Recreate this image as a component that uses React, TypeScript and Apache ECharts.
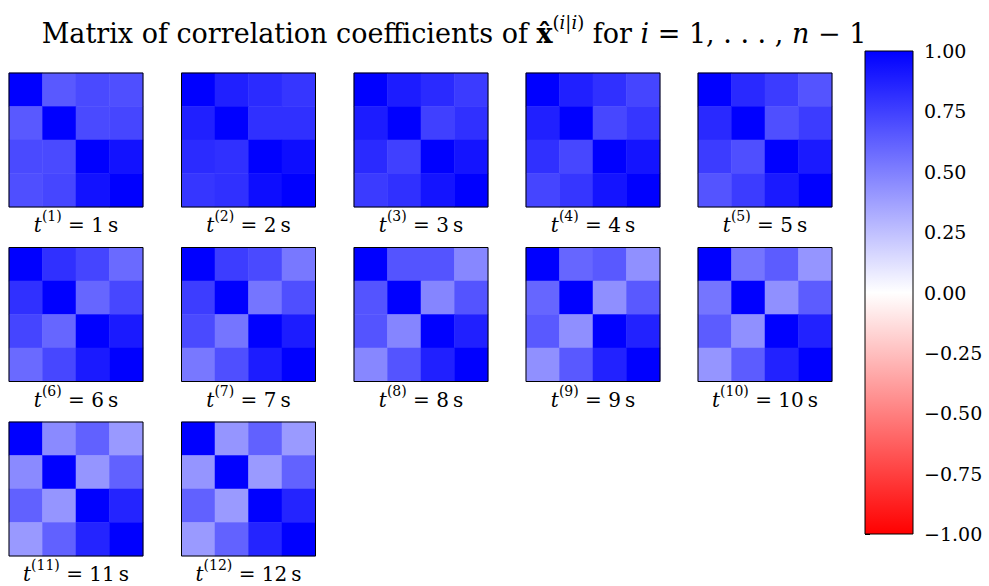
import React, { useEffect, useRef } from "react";
import * as echarts from "echarts";

// time steps t^(i) in seconds
const times = [1, 2, 3, 4, 5, 6, 7, 8, 9, 10, 11, 12];
// upper-triangle correlation coefficients (symmetric 4x4, diagonal = 1)
const r01 = [0.65, 0.875, 0.89, 0.875, 0.84, 0.81, 0.76, 0.67, 0.6, 0.54, 0.46, 0.415];
const r02 = [0.71, 0.83, 0.835, 0.81, 0.765, 0.73, 0.71, 0.67, 0.65, 0.64, 0.62, 0.62];
const r03 = [0.69, 0.79, 0.77, 0.73, 0.67, 0.585, 0.53, 0.47, 0.435, 0.415, 0.4, 0.395];
const r12 = [0.71, 0.81, 0.75, 0.72, 0.69, 0.6, 0.54, 0.48, 0.44, 0.435, 0.415, 0.395];
const r13 = [0.725, 0.81, 0.81, 0.79, 0.765, 0.72, 0.69, 0.67, 0.65, 0.64, 0.62, 0.615];
const r23 = [0.93, 0.95, 0.92, 0.92, 0.9, 0.9, 0.89, 0.875, 0.865, 0.865, 0.86, 0.86];
const cells = ["0", "1", "2", "3"];
const cbMin = -1;
const cbMax = 1;
const cbStep = 0.25;

const FONT = "DejaVu Serif";

function matrix(k: number): number[][] {
  const u: Record<string, number> = {
    "01": r01[k], "02": r02[k], "03": r03[k], "12": r12[k], "13": r13[k], "23": r23[k],
  };
  const m: number[][] = [];
  for (let i = 0; i < 4; i++) {
    m.push([]);
    for (let j = 0; j < 4; j++) {
      if (i === j) m[i].push(1);
      else m[i].push(u[i < j ? `${i}${j}` : `${j}${i}`]);
    }
  }
  return m;
}

export default function App() {
  const ref = useRef<HTMLDivElement>(null);
  useEffect(() => {
    if (!ref.current) return;
    const chart = echarts.init(ref.current, undefined, { renderer: "svg" });
    const size = 134;
    const colX = [9, 181.5, 354, 526, 698];
    const rowY = [73, 247.5, 422];
    const grids: any[] = [];
    const xAxes: any[] = [];
    const yAxes: any[] = [];
    const series: any[] = [];
    const graphics: any[] = [];
    times.forEach((t, k) => {
      const c = k % 5;
      const r = Math.floor(k / 5);
      grids.push({
        left: colX[c], top: rowY[r], width: size, height: size,
        show: true, borderColor: "#000", borderWidth: 1, backgroundColor: "transparent", z: 10,
      });
      xAxes.push({ type: "category", data: cells, gridIndex: k, show: false });
      yAxes.push({ type: "category", data: cells, gridIndex: k, show: false, inverse: true });
      const m = matrix(k);
      const data: number[][] = [];
      for (let i = 0; i < 4; i++) for (let j = 0; j < 4; j++) data.push([j, i, m[i][j]]);
      series.push({
        type: "heatmap", xAxisIndex: k, yAxisIndex: k, data,
        itemStyle: { borderWidth: 0 }, emphasis: { disabled: true },
      });
      graphics.push({
        type: "text",
        x: colX[c] + size / 2,
        y: rowY[r] + size + 15,
        style: {
          text: `{it|t}{sup|(${t})}{n| = ${t}\u2009s}`,
          textAlign: "center",
          textVerticalAlign: "middle",
          fill: "#000",
          rich: {
            it: { fontFamily: FONT, fontSize: 20, fontStyle: "italic", verticalAlign: "bottom", lineHeight: 26 },
            sup: { fontFamily: FONT, fontSize: 14, verticalAlign: "top", lineHeight: 26 },
            n: { fontFamily: FONT, fontSize: 20, verticalAlign: "bottom", lineHeight: 26 },
          },
        },
      });
    });
    // colorbar
    const cb = { left: 865, top: 51, width: 48, height: 483 };
    const cbIdx = times.length;
    grids.push({ ...cb, show: true, borderColor: "#000", borderWidth: 1, backgroundColor: "transparent", z: 10 });
    xAxes.push({ type: "value", gridIndex: cbIdx, show: false, min: 0, max: 1 });
    yAxes.push({
      type: "value", gridIndex: cbIdx, position: "right", min: cbMin, max: cbMax, interval: cbStep,
      axisLine: { show: false }, splitLine: { show: false },
      axisTick: { show: true, length: 5, lineStyle: { color: "#000" } },
      axisLabel: {
        color: "#000", fontFamily: FONT, fontSize: 19, margin: 11,
        formatter: (v: number) => (v < 0 ? "\u2212" : "") + Math.abs(v).toFixed(2),
      },
    });
    graphics.push({
      type: "rect", z: 1,
      shape: { x: cb.left, y: cb.top, width: cb.width, height: cb.height },
      style: {
        fill: new echarts.graphic.LinearGradient(0, 0, 0, 1, [
          { offset: 0, color: "#0000ff" },
          { offset: 0.5, color: "#ffffff" },
          { offset: 1, color: "#ff0000" },
        ]),
      },
    });
    // title
    graphics.push({
      type: "text",
      x: 454,
      y: 30,
      style: {
        text: "{n|Matrix of correlation coefficients of }{b|x\u0302}{sup|(}{supi|i}{sup||}{supi|i}{sup|)}{n| for }{i|i}{n| = 1, . . . , }{i|n}{n| \u2212 1}",
        textAlign: "center",
        textVerticalAlign: "middle",
        fill: "#000",
        rich: {
          n: { fontFamily: FONT, fontSize: 27, verticalAlign: "bottom", lineHeight: 33 },
          i: { fontFamily: FONT, fontSize: 27, fontStyle: "italic", verticalAlign: "bottom", lineHeight: 33 },
          b: { fontFamily: FONT, fontSize: 27, fontWeight: "bold", verticalAlign: "bottom", lineHeight: 33 },
          sup: { fontFamily: FONT, fontSize: 18, verticalAlign: "top", lineHeight: 33 },
          supi: { fontFamily: FONT, fontSize: 18, fontStyle: "italic", verticalAlign: "top", lineHeight: 33 },
        },
      },
    });
    chart.setOption({
      animation: false,
      backgroundColor: "#fff",
      grid: grids,
      xAxis: xAxes,
      yAxis: yAxes,
      visualMap: {
        show: false, type: "continuous", min: cbMin, max: cbMax,
        seriesIndex: times.map((_, k) => k),
        inRange: { color: ["#ff0000", "#ffffff", "#0000ff"] },
      },
      series,
      graphic: graphics,
    });
    return () => chart.dispose();
  }, []);
  return (
    <div
      ref={ref}
      style={{ position: "fixed", left: 0, top: 0, width: 989, height: 586 }}
    />
  );
}
